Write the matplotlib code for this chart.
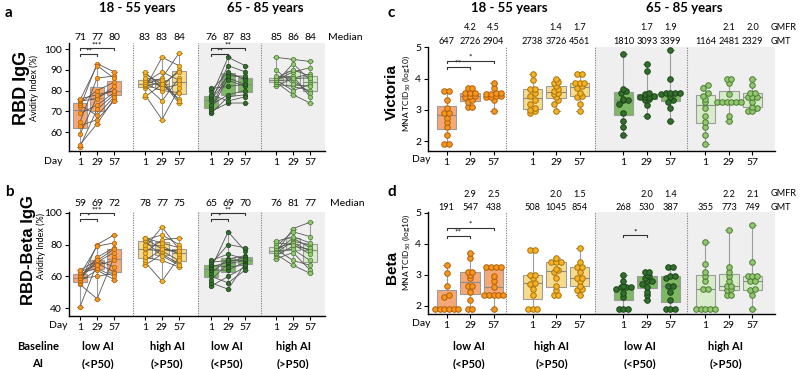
import matplotlib
matplotlib.use('Agg')
import matplotlib.pyplot as plt
import numpy as np

plt.rcParams['font.family'] = ['Lato', 'DejaVu Sans']
plt.rcParams['mathtext.default'] = 'regular'

days = ['1', '29', '57']
ages = ['18 - 55 years', '65 - 85 years']
groups = ['low AI\n(<P50)', 'high AI\n(>P50)', 'low AI\n(<P50)', 'high AI\n(>P50)']

# panel a: RBD IgG avidity index (%), per subject, days 1 / 29 / 57
a_young_low = [[53, 54, 59, 63, 65, 69, 72, 73, 74, 75, 75.5, 76],
               [71, 64, 77, 66, 86, 73, 93, 68, 80, 76, 92, 78],
               [78, 76, 80, 75, 87, 79, 89, 77, 84, 82, 86, 80]]
a_young_high = [[77, 78, 81, 82, 82.5, 83, 83, 84, 85, 86, 88, 89],
                [83, 66, 96, 84, 75, 86, 80, 89, 82, 85, 83, 81],
                [76, 81, 92, 74, 86, 98, 79, 85, 90, 75, 89, 83]]
a_old_low = [[69, 70, 71, 72, 73, 75, 76, 77, 77, 78, 80, 81],
             [77, 74, 86, 88, 78, 92, 85, 96, 87, 75, 89, 82],
             [78, 74, 83, 86, 80, 89, 82, 92, 87, 77, 85, 83]]
a_old_high = [[82, 83, 84, 84, 85, 85, 85, 86, 86, 87, 90, 96],
              [86, 82, 93, 78, 89, 85, 80, 90, 87, 86, 83, 95],
              [88, 80, 85, 74, 91, 79, 83, 87, 77, 86, 82, 94]]
a_median = ['71', '77', '80', '83', '83', '84', '76', '87', '83', '85', '86', '84']

# panel b: RBD-Beta IgG avidity index (%)
b_young_low = [[41, 55, 56, 57, 58, 59, 59, 60, 61, 62, 63, 64],
               [68, 46, 80, 64, 70, 60, 72, 69, 79, 65, 67, 70],
               [63, 72, 86, 58, 66, 62, 78, 75, 81, 60, 70, 77]]
b_young_high = [[67, 69, 70, 72, 75, 77, 78, 80, 82, 83, 84, 84],
                [74, 57, 77, 70, 83, 76, 91, 79, 73, 86, 81, 77],
                [68, 72, 75, 66, 84, 70, 77, 74, 67, 80, 78, 76]]
b_old_low = [[54, 56, 58, 60, 62, 64, 65, 66, 67, 68, 69, 70],
             [60, 52, 68, 56, 71, 64, 88, 69, 66, 80, 70, 74],
             [66, 68, 70, 64, 73, 69, 76, 72, 67, 78, 70, 71]]
b_old_high = [[71, 73, 74, 75, 75, 76, 76, 77, 78, 79, 81, 82],
              [75, 79, 67, 82, 90, 77, 84, 70, 81, 88, 80, 85],
              [64, 77, 62, 80, 94, 70, 78, 67, 76, 85, 74, 81]]
b_median = ['59', '69', '72', '78', '77', '75', '65', '69', '70', '76', '81', '77']

# panel c: Victoria MNA titres, log10
c_young_low = [[1.9, 1.9, 2.2, 2.45, 2.6, 2.75, 2.9, 2.9, 3.05, 3.3, 3.6, 3.6],
               [3.1, 3.1, 3.25, 3.3, 3.4, 3.45, 3.45, 3.55, 3.55, 3.55, 3.7, 3.7],
               [2.95, 3.3, 3.4, 3.4, 3.45, 3.45, 3.5, 3.5, 3.55, 3.55, 3.7, 3.85]]
c_young_high = [[2.9, 2.95, 3.0, 3.05, 3.2, 3.3, 3.45, 3.55, 3.65, 3.65, 3.95, 4.15],
                [2.95, 3.2, 3.3, 3.4, 3.5, 3.55, 3.6, 3.65, 3.75, 3.85, 3.9, 4.0],
                [2.95, 3.2, 3.4, 3.45, 3.55, 3.7, 3.75, 3.85, 3.85, 3.85, 4.15, 4.15]]
c_old_low = [[2.2, 2.45, 2.65, 2.9, 3.2, 3.3, 3.3, 3.35, 3.55, 3.6, 3.65, 4.8],
             [2.8, 3.15, 3.3, 3.35, 3.4, 3.4, 3.4, 3.45, 3.5, 3.55, 4.25, 4.45],
             [2.65, 3.05, 3.25, 3.3, 3.4, 3.5, 3.55, 3.55, 3.55, 3.55, 4.0, 4.9]]
c_old_high = [[1.9, 2.2, 2.45, 2.6, 2.8, 3.05, 3.25, 3.35, 3.45, 3.55, 3.7, 3.8],
              [2.65, 2.8, 3.25, 3.25, 3.25, 3.25, 3.25, 3.25, 3.5, 3.85, 4.0, 4.0],
              [2.95, 2.95, 3.05, 3.1, 3.25, 3.4, 3.4, 3.4, 3.55, 3.55, 3.8, 4.0]]
c_gmfr = ['', '4.2', '4.5', '', '1.4', '1.7', '', '1.7', '1.9', '', '2.1', '2.0']
c_gmt = ['647', '2726', '2904', '2738', '3726', '4561', '1810', '3093', '3399', '1164', '2481', '2329']

# panel d: Beta MNA titres, log10
d_young_low = [[1.9, 1.9, 1.9, 1.9, 1.9, 1.9, 2.3, 2.35, 2.65, 3.05, 3.3],
               [1.9, 1.9, 2.2, 2.45, 2.65, 2.65, 2.9, 3.0, 3.1, 3.1, 3.55, 3.7],
               [1.9, 2.35, 2.35, 2.35, 2.35, 2.35, 2.6, 2.8, 2.95, 3.25, 3.25, 3.25, 3.25]]
d_young_high = [[1.9, 1.9, 1.9, 2.35, 2.55, 2.7, 2.75, 2.9, 3.0, 3.0, 3.8, 3.8],
                [2.35, 2.35, 2.5, 2.65, 2.9, 3.1, 3.15, 3.2, 3.4, 3.4, 3.4, 3.55],
                [2.35, 2.5, 2.55, 2.65, 2.8, 2.9, 2.9, 3.1, 3.25, 3.25, 3.4, 3.85]]
d_old_low = [[1.9, 1.9, 1.9, 2.3, 2.4, 2.55, 2.6, 2.6, 2.6, 2.65, 2.8, 3.0],
             [2.2, 2.35, 2.45, 2.6, 2.7, 2.8, 2.8, 2.9, 2.95, 3.0, 3.1, 3.1],
             [1.9, 1.9, 1.9, 2.2, 2.45, 2.65, 2.65, 2.9, 2.95, 2.95, 3.25, 3.25]]
d_old_high = [[1.9, 1.9, 1.9, 1.9, 1.9, 2.55, 2.55, 2.8, 2.95, 3.1, 3.35, 4.05],
              [2.35, 2.35, 2.5, 2.55, 2.65, 2.65, 2.8, 2.95, 3.1, 3.25, 4.45],
              [1.9, 2.35, 2.5, 2.55, 2.8, 2.8, 2.95, 2.95, 2.95, 3.4, 4.6]]
d_gmfr = ['', '2.9', '2.5', '', '2.0', '1.5', '', '2.0', '1.4', '', '2.2', '2.1']
d_gmt = ['191', '547', '438', '508', '1045', '854', '268', '530', '387', '355', '773', '749']

# significance brackets: (group, day from, day to, label, bracket level)
a_sig = [(0, 0, 1, '**', 97.6), (0, 0, 2, '***', 100.3), (2, 0, 1, '**', 97.6), (2, 0, 2, '**', 100.3)]
b_sig = [(0, 0, 1, '*', 96.0), (0, 0, 2, '***', 99.6), (2, 0, 1, '*', 96.0), (2, 0, 2, '**', 99.6)]
c_sig = [(0, 0, 1, '**', 4.38), (0, 0, 2, '*', 4.57)]
d_sig = [(0, 0, 1, '**', 4.26), (0, 0, 2, '*', 4.52), (2, 0, 1, '*', 4.28)]

box_colors = ['#f5a877', '#f7dc8e', '#7db862', '#d8eccb']
dot_colors = ['#f5961e', '#f6b127', '#336f2c', '#92c86f']
dot_edges = ['#b35f0c', '#a87508', '#1d4519', '#4c7c34']

W, H = 800, 369
fig = plt.figure(figsize=(8, 3.69), dpi=100)


def rect(l, t, r, b):
    return [l / W, 1 - b / H, (r - l) / W, (b - t) / H]


def swarm(vals, step=0.2, tol=0.1):
    vals = np.asarray(vals, float)
    order = np.argsort(vals, kind='stable')
    off = np.zeros(len(vals))
    i = 0
    while i < len(order):
        j = i
        while j + 1 < len(order) and vals[order[j + 1]] - vals[order[i]] < tol:
            j += 1
        k = j - i + 1
        for n, idx in enumerate(order[i:j + 1]):
            off[idx] = (n - (k - 1) / 2) * step
        i = j + 1
    return off


def draw_panel(ax, data, offsets, seps, xlim, ylim, yticks, width, paired, sig, leg):
    ax.set_xlim(xlim)
    ax.set_ylim(ylim)
    ax.axvspan(seps[1], xlim[1], color='#efefef', lw=0, zorder=0)
    for s in seps:
        ax.axvline(s, color='#7a7a7a', lw=0.8, ls=(0, (1, 1.2)), zorder=1)
    for g, grp in enumerate(data):
        pos = [offsets[g] + d for d in range(3)]
        ax.boxplot(grp, positions=pos, widths=width, whis=(0, 100), showfliers=False,
                   patch_artist=True, capwidths=0.3, zorder=2,
                   boxprops=dict(facecolor=box_colors[g], edgecolor='#9c9c9c', lw=0.8),
                   whiskerprops=dict(color='#9c9c9c', lw=0.8),
                   capprops=dict(color='#9c9c9c', lw=0.8),
                   medianprops=dict(color='#8a8a8a', lw=0.8))
        if paired:
            for subj in zip(*grp):
                ax.plot(pos, subj, color='#555555', lw=0.6, zorder=3)
            for d in range(3):
                ax.plot([pos[d]] * len(grp[d]), grp[d], 'o', ms=3.2, mfc=dot_colors[g],
                        mec=dot_edges[g], mew=0.5, zorder=4)
        else:
            for d in range(3):
                ax.plot(pos[d] + swarm(grp[d]), grp[d], 'o', ms=4, mfc=dot_colors[g],
                        mec=dot_edges[g], mew=0.7, zorder=4)
    for g, d1, d2, lab, lev in sig:
        x1, x2 = offsets[g] + d1, offsets[g] + d2
        ax.plot([x1, x1, x2, x2], [lev - leg, lev, lev, lev - leg], color='#333333',
                lw=0.8, zorder=5, clip_on=False)
        ax.text((x1 + x2) / 2, lev, lab, ha='center', va='bottom', fontsize=6,
                zorder=5, linespacing=0.5)
    ax.set_xticks([o + d for o in offsets for d in range(3)])
    ax.set_xticklabels(days * 4, fontsize=7.5)
    ax.set_yticks(yticks)
    ax.tick_params(axis='y', labelsize=7.5, length=3, width=0.8, pad=2)
    ax.tick_params(axis='x', length=3, width=0.8, pad=2)
    for s in ['top', 'right']:
        ax.spines[s].set_visible(False)
    for s in ['left', 'bottom']:
        ax.spines[s].set_linewidth(1.0)


def top_row(ax, offsets, labels, y, size=7.5):
    tr = ax.get_xaxis_transform()
    for i, lab in enumerate(labels):
        g, d = divmod(i, 3)
        ax.text(offsets[g] + d, y, lab, transform=tr, ha='center', va='center',
                fontsize=size, clip_on=False)


ab_off = [0, 3.82, 7.71, 11.53]
ab_sep = [3.12, 6.94, 10.65]
ab_xlim = (-0.65, 14.41)
cd_off = [0, 3.66, 7.53, 11.02]
cd_sep = [2.53, 6.32, 10.23]
cd_xlim = (-0.79, 13.98)

ax_a = fig.add_axes(rect(69, 43, 325, 151))
draw_panel(ax_a, [a_young_low, a_young_high, a_old_low, a_old_high], ab_off, ab_sep,
           ab_xlim, (50.9, 102.9), [60, 70, 80, 90, 100], 0.78, True, a_sig, 1.0)
top_row(ax_a, ab_off, a_median, 1.05)

ax_b = fig.add_axes(rect(69, 212, 325, 316))
draw_panel(ax_b, [b_young_low, b_young_high, b_old_low, b_old_high], ab_off, ab_sep,
           ab_xlim, (35.2, 100.4), [40, 60, 80, 100], 0.78, True, b_sig, 1.3)
top_row(ax_b, ab_off, b_median, 1.085)

ax_c = fig.add_axes(rect(428, 47, 775, 151))
draw_panel(ax_c, [c_young_low, c_young_high, c_old_low, c_old_high], cd_off, cd_sep,
           cd_xlim, (1.68, 5.01), [2, 3, 4, 5], 0.82, False, c_sig, 0.07)
top_row(ax_c, cd_off, c_gmt, 1.05, 6.6)
top_row(ax_c, cd_off, c_gmfr, 1.185, 6.6)

ax_d = fig.add_axes(rect(428, 212, 775, 314))
draw_panel(ax_d, [d_young_low, d_young_high, d_old_low, d_old_high], cd_off, cd_sep,
           cd_xlim, (1.74, 5.02), [2, 3, 4, 5], 0.82, False, d_sig, 0.07)
top_row(ax_d, cd_off, d_gmt, 1.04, 6.6)
top_row(ax_d, cd_off, d_gmfr, 1.175, 6.6)

# column headers
for x, lab in [(137, ages[0]), (265, ages[1]), (509, ages[0]), (684, ages[1])]:
    fig.text(x / W, 1 - 8 / H, lab, ha='center', va='center', fontsize=9.5, fontweight='bold')

# panel letters
for x, y, lab in [(5, 13, 'a'), (5, 192, 'b'), (387, 13, 'c'), (387, 192, 'd')]:
    fig.text(x / W, 1 - y / H, lab, ha='left', va='center', fontsize=11, fontweight='bold')

# right-hand row labels
fig.text(328 / W, 1 - 38 / H, 'Median', ha='left', va='center', fontsize=7.5)
fig.text(330 / W, 1 - 203 / H, 'Median', ha='left', va='center', fontsize=7.5)
fig.text(771 / W, 1 - 28 / H, 'GMFR', ha='left', va='center', fontsize=6.6)
fig.text(771 / W, 1 - 42 / H, 'GMT', ha='left', va='center', fontsize=6.6)
fig.text(771 / W, 1 - 194 / H, 'GMFR', ha='left', va='center', fontsize=6.6)
fig.text(771 / W, 1 - 208 / H, 'GMT', ha='left', va='center', fontsize=6.6)

# y labels
big = ['Liberation Sans', 'DejaVu Sans']
fig.text(22 / W, 1 - 88 / H, 'RBD IgG', rotation=90, ha='center', va='center',
         fontsize=13, fontweight='bold', family=big)
fig.text(34 / W, 1 - 88 / H, 'Avidity Index (%)', rotation=90, ha='center', va='center', fontsize=6.5)
fig.text(28 / W, 1 - 250 / H, 'RBD-Beta IgG', rotation=90, ha='center', va='center',
         fontsize=12, fontweight='bold', family=big)
fig.text(41 / W, 1 - 246 / H, 'Avidity Index (%)', rotation=90, ha='center', va='center', fontsize=6.5)
fig.text(392 / W, 1 - 92 / H, 'Victoria', rotation=90, ha='center', va='center',
         fontsize=11, fontweight='bold', family=big)
fig.text(406 / W, 1 - 93 / H, 'MNA TCID$_{50}$ (log10)', rotation=90, ha='center', va='center', fontsize=6)
fig.text(392 / W, 1 - 268 / H, 'Beta', rotation=90, ha='center', va='center',
         fontsize=11, fontweight='bold', family=big)
fig.text(406 / W, 1 - 252 / H, 'MNA TCID$_{50}$ (log10)', rotation=90, ha='center', va='center', fontsize=6)

# "Day" labels
for x, y in [(53, 161), (58, 325), (421, 160), (421, 323)]:
    fig.text(x / W, 1 - y / H, 'Day', ha='center', va='center', fontsize=7.5)

# baseline AI group labels
fig.text(38 / W, 1 - 355 / H, 'Baseline\nAI', ha='center', va='center', fontsize=8,
         fontweight='bold', linespacing=1.6)
for xs in [(98, 167, 227, 293), (469, 552, 640, 726)]:
    for x, lab in zip(xs, groups):
        fig.text(x / W, 1 - 355 / H, lab, ha='center', va='center', fontsize=8,
                 fontweight='bold', linespacing=1.6)

fig.savefig('out.png', dpi=100)
